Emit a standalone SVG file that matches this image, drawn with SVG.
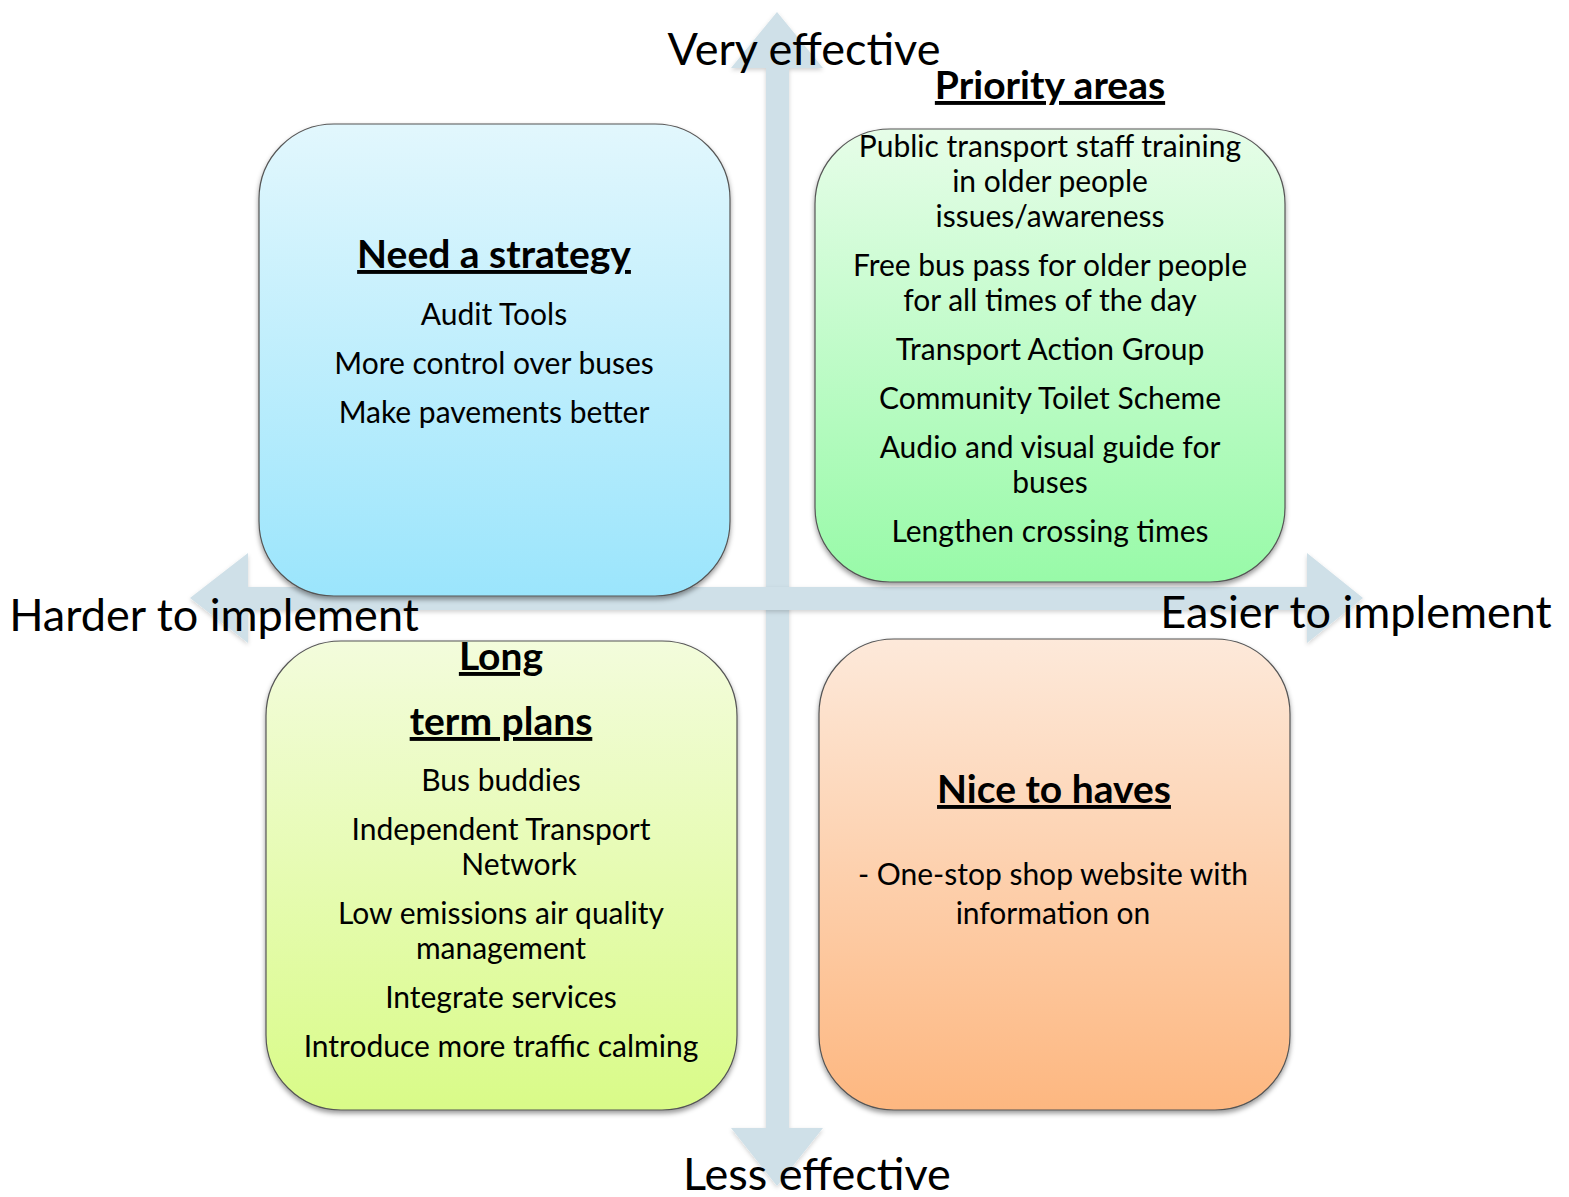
<svg xmlns="http://www.w3.org/2000/svg" width="1569" height="1197" viewBox="0 0 1569 1197">
  <defs>
    <linearGradient id="gBlue" x1="0" y1="0" x2="0" y2="1">
      <stop offset="0" stop-color="#e2f7fd"/>
      <stop offset="1" stop-color="#9be5fc"/>
    </linearGradient>
    <linearGradient id="gGreen" x1="0" y1="0" x2="0" y2="1">
      <stop offset="0" stop-color="#e6fde8"/>
      <stop offset="1" stop-color="#98faa8"/>
    </linearGradient>
    <linearGradient id="gLime" x1="0" y1="0" x2="0" y2="1">
      <stop offset="0" stop-color="#f3fcdc"/>
      <stop offset="1" stop-color="#d9fb88"/>
    </linearGradient>
    <linearGradient id="gOrange" x1="0" y1="0" x2="0" y2="1">
      <stop offset="0" stop-color="#fde9da"/>
      <stop offset="1" stop-color="#fdb780"/>
    </linearGradient>
    <filter id="shadow" x="-10%" y="-10%" width="120%" height="125%">
      <feDropShadow dx="0" dy="3" stdDeviation="2.5" flood-color="#000" flood-opacity="0.4"/>
    </filter>
    <filter id="arrowShadow" x="-10%" y="-10%" width="120%" height="120%">
      <feDropShadow dx="0" dy="2" stdDeviation="2" flood-color="#000" flood-opacity="0.18"/>
    </filter>
  </defs>
  <style>
    text { font-family: Lato, "Open Sans", "Liberation Sans", sans-serif; fill: #000; text-anchor: middle; }
    .axis { font-size: 45px; }
    .head { font-size: 39px; font-weight: bold; text-decoration: underline; }
    .item { font-size: 30px; }
    .box { stroke: #555; stroke-width: 1.2; filter: url(#shadow); }
    .arrow { fill: #cfe0e8; filter: url(#arrowShadow); }
  </style>

  <rect width="1569" height="1197" fill="#fff"/>

  <!-- axes: effectiveness (vertical) and ease of implementation (horizontal) -->
  <g id="connectors">
    <path class="arrow" d="M777,12 L823,68 L789,68 L789,1128 L823,1128 L777,1186 L731,1128 L766,1128 L766,68 L731,68 Z"/>
    <path class="arrow" d="M190,598 L248,553 L248,587 L1307,587 L1307,553 L1363,598 L1307,643 L1307,610 L248,610 L248,643 Z"/>
  </g>

  <g id="need-a-strategy">
    <rect class="box" x="259" y="124" width="471" height="472" rx="75" ry="75" fill="url(#gBlue)"/>
    <text class="head" x="494" y="268">Need a strategy</text>
    <text class="item" x="494" y="325">Audit Tools</text>
    <text class="item" x="494" y="374">More control over buses</text>
    <text class="item" x="494" y="423">Make pavements better</text>
  </g>

  <g id="priority-areas">
    <rect class="box" x="815" y="129" width="470" height="453" rx="75" ry="75" fill="url(#gGreen)"/>
    <text class="head" x="1050" y="99">Priority areas</text>
    <text class="item" x="1050" y="157">Public transport staff training</text>
    <text class="item" x="1050" y="192">in older people</text>
    <text class="item" x="1050" y="227">issues/awareness</text>
    <text class="item" x="1050" y="276">Free bus pass for older people</text>
    <text class="item" x="1050" y="311">for all times of the day</text>
    <text class="item" x="1050" y="360">Transport Action Group</text>
    <text class="item" x="1050" y="409">Community Toilet Scheme</text>
    <text class="item" x="1050" y="458">Audio and visual guide for</text>
    <text class="item" x="1050" y="493">buses</text>
    <text class="item" x="1050" y="542">Lengthen crossing times</text>
  </g>

  <g id="long-term-plans">
    <rect class="box" x="266" y="641" width="471" height="469" rx="75" ry="75" fill="url(#gLime)"/>
    <text class="head" x="501" y="670">Long</text>
    <text class="head" x="501" y="735">term plans</text>
    <text class="item" x="501" y="791">Bus buddies</text>
    <text class="item" x="501" y="840">Independent Transport</text>
    <text class="item" x="519" y="875">Network</text>
    <text class="item" x="501" y="924">Low emissions air quality</text>
    <text class="item" x="501" y="959">management</text>
    <text class="item" x="501" y="1008">Integrate services</text>
    <text class="item" x="501" y="1057">Introduce more traffic calming</text>
  </g>

  <g id="nice-to-haves">
    <rect class="box" x="819" y="639" width="471" height="471" rx="75" ry="75" fill="url(#gOrange)"/>
    <text class="head" x="1054" y="803">Nice to haves</text>
    <text class="item" x="1053" y="885">- One-stop shop website with</text>
    <text class="item" x="1053" y="924">information on</text>
  </g>

  <g id="axis-labels">
    <text class="axis" x="804" y="65">Very effective</text>
    <text class="axis" x="214" y="631">Harder to implement</text>
    <text class="axis" x="1356" y="628">Easier to implement</text>
    <text class="axis" x="817" y="1190">Less effective</text>
  </g>
</svg>
